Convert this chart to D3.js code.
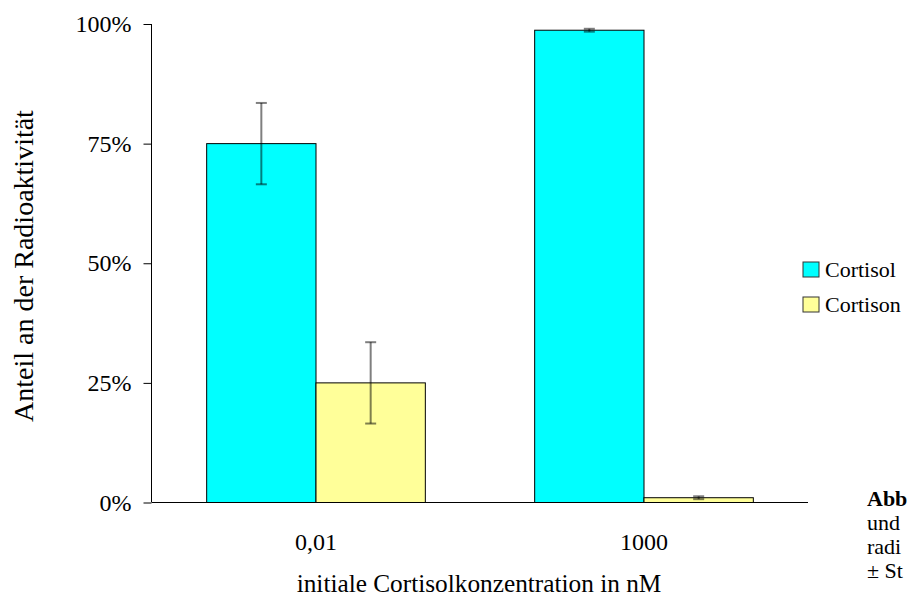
<!DOCTYPE html>
<html>
<head>
<meta charset="utf-8">
<script src="https://cdn.jsdelivr.net/npm/d3@7"></script>
<style>
  body { margin: 0; background: #fff; }
  svg { display: block; }
</style>
</head>
<body>
<svg width="907" height="601" font-family="Liberation Serif"></svg>
<script>
const categories = ["0,01", "1000"];
const series = ["Cortisol", "Cortison"];
const colors = ["#00ffff", "#ffff99"];
// share in %, by category
const cortisol = [75.0, 98.7];
const cortison = [25.0, 1.0];
const cortisolErr = [8.5, 0.3];
const cortisonErr = [8.5, 0.3];
const yTicks = [0, 25, 50, 75, 100];
// caption fragment, cut by the picture's right edge
const captionLines = ["Abb", "und", "radi", "± St"];

const FONT = "Liberation Serif";
const svg = d3.select("svg");

const plotLeft = 152, plotRight = 808, plotTop = 24, plotBottom = 502.5;

const x = d3.scaleBand().domain(categories).range([plotLeft, plotRight]);
const xInner = d3.scaleBand().domain(series).range([0, x.bandwidth()]).paddingOuter(0.5);
const y = d3.scaleLinear().domain([0, 100]).range([plotBottom, plotTop]);
const color = d3.scaleOrdinal().domain(series).range(colors);

const rows = [];
categories.forEach((c, i) => {
  rows.push({ cat: c, s: "Cortisol", v: cortisol[i], e: cortisolErr[i] });
  rows.push({ cat: c, s: "Cortison", v: cortison[i], e: cortisonErr[i] });
});

// bars
svg.append("g")
  .selectAll("rect")
  .data(rows)
  .join("rect")
  .attr("x", (d) => x(d.cat) + xInner(d.s))
  .attr("y", (d) => y(d.v))
  .attr("width", xInner.bandwidth())
  .attr("height", (d) => y(0) - y(d.v))
  .attr("fill", (d) => color(d.s))
  .attr("stroke", "#000")
  .attr("stroke-width", 1);

// error bars
const err = svg.append("g")
  .attr("stroke", "#000")
  .attr("stroke-opacity", 0.5)
  .attr("stroke-width", 2);

rows.forEach((d) => {
  const cx = x(d.cat) + xInner(d.s) + xInner.bandwidth() / 2;
  err.append("line")
    .attr("x1", cx).attr("x2", cx)
    .attr("y1", y(d.v + d.e)).attr("y2", y(d.v - d.e));
  [d.v + d.e, d.v - d.e].forEach((v) => {
    err.append("line")
      .attr("x1", cx - 5.5).attr("x2", cx + 5.5)
      .attr("y1", y(v)).attr("y2", y(v));
  });
});

// y axis
const yAxis = svg.append("g")
  .attr("transform", `translate(${plotLeft - 0.5},0)`)
  .call(d3.axisLeft(y).tickValues(yTicks).tickSize(8).tickPadding(12)
    .tickFormat((d) => d + "%"));
yAxis.attr("font-family", FONT);
yAxis.select(".domain").attr("d", `M0,${plotTop}V${plotBottom}`).attr("stroke", "#000");
yAxis.selectAll(".tick line").attr("stroke", "#000");
yAxis.selectAll(".tick text")
  .attr("font-family", FONT)
  .attr("font-size", 24)
  .attr("fill", "#000");

// x axis
svg.append("line")
  .attr("x1", plotLeft).attr("x2", plotRight)
  .attr("y1", plotBottom).attr("y2", plotBottom)
  .attr("stroke", "#000");

svg.append("g")
  .selectAll("text")
  .data(categories)
  .join("text")
  .attr("x", (d) => x(d) + x.bandwidth() / 2)
  .attr("y", 550)
  .attr("text-anchor", "middle")
  .attr("font-family", FONT)
  .attr("font-size", 24)
  .text((d) => d);

// axis titles
svg.append("text")
  .attr("x", 479)
  .attr("y", 592)
  .attr("text-anchor", "middle")
  .attr("font-family", FONT)
  .attr("font-size", 25.3)
  .text("initiale Cortisolkonzentration in nM");

svg.append("text")
  .attr("transform", "translate(33,266) rotate(-90)")
  .attr("text-anchor", "middle")
  .attr("font-family", FONT)
  .attr("font-size", 28)
  .text("Anteil an der Radioaktivität");

// legend
const legend = svg.append("g")
  .selectAll("g")
  .data(series)
  .join("g")
  .attr("transform", (d, i) => `translate(803,${262 + i * 35})`);

legend.append("rect")
  .attr("width", 16)
  .attr("height", 15)
  .attr("fill", (d) => color(d))
  .attr("stroke", "#333");

legend.append("text")
  .attr("x", 22)
  .attr("y", 15)
  .attr("font-family", FONT)
  .attr("font-size", 22)
  .text((d) => d);

// caption
svg.append("g")
  .selectAll("text")
  .data(captionLines)
  .join("text")
  .attr("x", 867)
  .attr("y", (d, i) => 506 + i * 24)
  .attr("font-family", FONT)
  .attr("font-size", 22)
  .attr("font-weight", (d, i) => (i === 0 ? "bold" : "normal"))
  .text((d) => d);
</script>
</body>
</html>
